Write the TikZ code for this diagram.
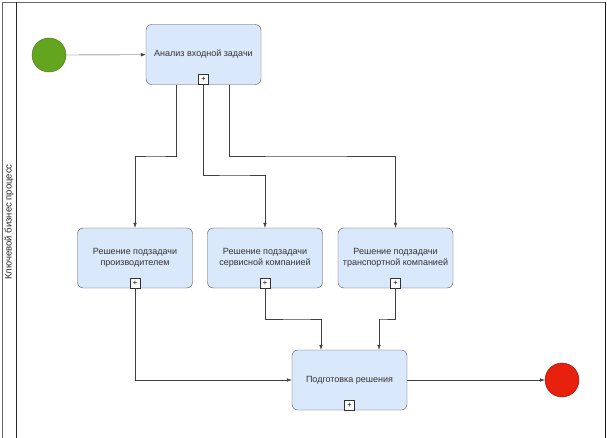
\documentclass[tikz,border=0pt]{standalone}
\usepackage{fontspec}
\setmainfont{Liberation Sans}
\usetikzlibrary{arrows.meta}
\definecolor{taskfill}{HTML}{DAE8FC}
\definecolor{startfill}{HTML}{63A51E}
\definecolor{endfill}{HTML}{E8200E}

\begin{document}
\begin{tikzpicture}[x=1pt,y=-1pt,
  task/.style={rectangle,draw=black!70,fill=taskfill,rounded corners=1.1ex,
    minimum width=115pt,minimum height=60pt,align=center,
    font=\fontsize{9}{11.5}\selectfont,text=black!80},
  plusbox/.style={rectangle,draw=black!80,fill=white,minimum size=10pt,inner sep=0pt,
    font=\fontsize{7.5}{7.5}\selectfont,anchor=south},
  start_ev/.style={circle,draw=startfill!70!black,fill=startfill,minimum size=34pt,inner sep=0pt},
  end_ev/.style={circle,draw=endfill!60!black,fill=endfill,minimum size=34pt,inner sep=0pt},
  flow/.style={draw=black!75,-{Latex[length=5pt,width=3.5pt]}}]
    \useasboundingbox (0,0) rectangle (607,438);
    % Pool and lane
    \draw[black!60] (2,438) -- (2,2) -- (605,2);
    \draw[black!90,line width=0.9pt] (605,2) -- (605,438);
    \draw[black!85] (16,2) -- (16,438);
    \node[rotate=90,font=\fontsize{9.5}{11}\selectfont,text=black!85] (lane) at (9,222) {Ключевой бизнес процесс};
    % Events
    \node[start_ev] (start) at (49,55) {};
    \node[end_ev] (finish) at (562,380) {};
    % Tasks
    \node[task] (analiz) at (203.5,54.5) {Анализ входной задачи};
    \node[task] (proizv) at (135,258) {Решение подзадачи\\производителем};
    \node[task] (servis) at (265,258) {Решение подзадачи\\сервисной компанией};
    \node[task] (transp) at (395.5,258) {Решение подзадачи\\транспортной компанией};
    \node[task] (podgot) at (349.5,380) {Подготовка решения};
    % Collapsed markers
    \foreach \t/\p in {analiz/p1,proizv/p2,servis/p3,transp/p4,podgot/p5}
      \node[plusbox] (\p) at (\t.south) {+};
    % Flows
    \draw[flow] ([xshift=-0pt]start.east) -- (analiz);
    \draw[flow] ([xshift=-27.5pt]analiz.south) |- (155.5,156) -| (proizv.north);
    \draw[flow] (p1.south) |- (235,175) -| (servis.north);
    \draw[flow] ([xshift=25.5pt]analiz.south) |- (300,156) -| (transp.north);
    \draw[flow] (p2.south) |- (podgot.west);
    \draw[flow] (p3.south) |- (300,319) -| ([xshift=-28.5pt]podgot.north);
    \draw[flow] (p4.south) |- (380,319) -| ([xshift=29.5pt]podgot.north);
    \draw[flow] (podgot) -- (finish);
\end{tikzpicture}
\end{document}
